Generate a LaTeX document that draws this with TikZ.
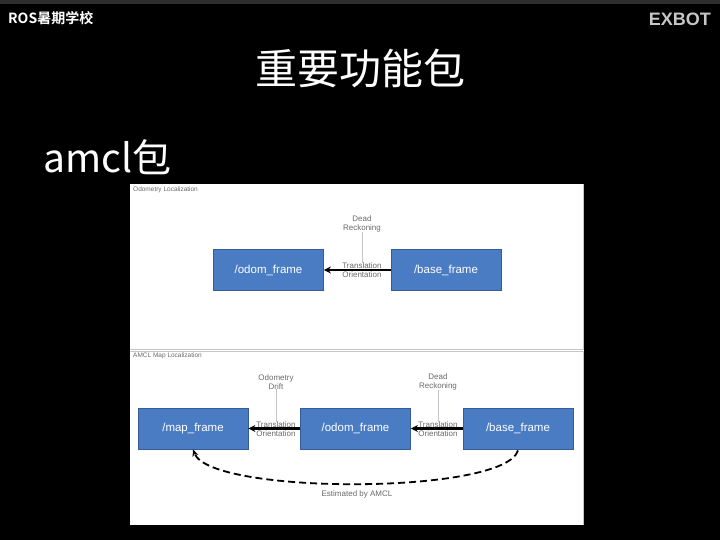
\documentclass[tikz,border=0pt]{standalone}
\usepackage{fontspec}
\setmainfont{Liberation Sans}
\newfontfamily\cjk{Noto Sans CJK SC}
\newfontfamily\cjkb{Noto Sans CJK SC Bold}
\usetikzlibrary{arrows.meta}
\definecolor{boxblue}{HTML}{4A7CC4}
\definecolor{boxedge}{HTML}{355C96}
\definecolor{lbl}{HTML}{6A6A6A}
\tikzset{
  frame/.style={draw=boxedge, line width=0.8pt, fill=boxblue, minimum width=110pt, minimum height=41pt, inner sep=0pt, text=white, font=\fontsize{11.5}{13}\selectfont},
  tfarrow/.style={-{Stealth[length=7pt,width=7pt]}, line width=2.2pt, black},
  small/.style={text=lbl, font=\fontsize{8}{8.5}\selectfont, align=center, inner sep=0pt},
  tiny/.style={text=lbl, font=\fontsize{6.5}{7}\selectfont, anchor=north west, inner sep=0pt},
  feed/.style={draw=gray!45, line width=0.7pt}
}
\begin{document}
\begin{tikzpicture}[x=1pt,y=-1pt]
\fill[black] (0,0) rectangle (720,540);
\useasboundingbox (0,0) rectangle (720,540);
\fill[black!82] (0,0) rectangle (720,4);
% header
\node[text=white, font=\cjkb\fontsize{14}{16}\selectfont, anchor=west, inner sep=0pt] (hdr) at (8,18) {ROS暑期学校};
\node[text=black!22, font=\bfseries\fontsize{18}{20}\selectfont, anchor=east, inner sep=0pt] (exbot) at (711,19) {EXBOT};
\node[text=white, font=\cjk\fontsize{42}{46}\selectfont, inner sep=0pt] (title) at (360,68) {重要功能包};
\node[text=white, font=\cjk\fontsize{39}{42}\selectfont, anchor=west, inner sep=0pt] (amcl) at (43,157) {amcl包};
% panels
\fill[white] (130,184) rectangle (584,525);
\draw[gray!45, line width=0.6pt] (130,349) -- (583.5,349) -- (583.5,184.5);
\draw[gray!45, line width=0.6pt] (130,351) -- (583.5,351) -- (583.5,525);
\node[tiny] (t1) at (133,187) {Odometry Localization};
\node[tiny] (t2) at (133,353) {AMCL Map Localization};
% top panel
\node[frame] (odom1) at (268.5,270) {/odom\_frame};
\node[frame] (base1) at (446,270) {/base\_frame};
\draw[tfarrow] (base1) -- (odom1);
\node[small] (dr1) at (362,224) {Dead\\Reckoning};
\node[small] (to1) at (362,270) {Translation\\Orientation};
\draw[feed] (dr1.south) -- (to1.north);
% bottom panel
\node[frame] (map2) at (193,428.5) {/map\_frame};
\node[frame] (odom2) at (355.5,428.5) {/odom\_frame};
\node[frame] (base2) at (518,428.5) {/base\_frame};
\draw[tfarrow] (odom2) -- (map2);
\draw[tfarrow] (base2) -- (odom2);
\node[small] (od2) at (276,382) {Odometry\\Drift};
\node[small] (to2) at (276,429) {Translation\\Orientation};
\draw[feed] (od2.south) -- (to2.north);
\node[small] (dr2) at (438,382) {Dead\\Reckoning};
\node[small] (to3) at (438,429) {Translation\\Orientation};
\draw[feed] (dr2.south) -- (to3.north);
\draw[-{Stealth[length=7pt,width=6pt]}, line width=1.8pt, dash pattern=on 7pt off 4pt] (base2.south) ++(0,1) .. controls (505,495) and (210,495) .. (map2.south);
\node[small] (est) at (357,494) {Estimated by AMCL};
\end{tikzpicture}
\end{document}
